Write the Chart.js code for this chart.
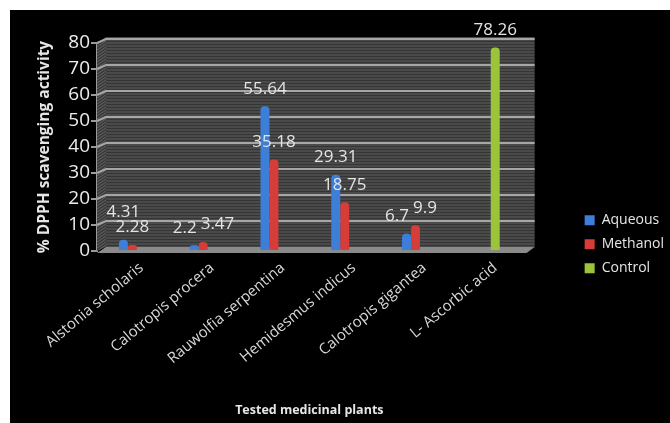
<!DOCTYPE html>
<html>
<head>
  <title>DPPH scavenging activity</title>
  <script src="https://cdn.jsdelivr.net/npm/chart.js"></script>
  <style>
    html, body {
      margin: 0;
      background: #fff;
      overflow: hidden;
    }
    .frame {
      position: absolute;
      left: 10px;
      top: 10px;
      width: 664px;
      height: 413px;
      background: #000;
    }
  </style>
</head>
<body>
  <div class="frame">
    <canvas id="myChart" width="664" height="413"></canvas>
  </div>
  <script>
    const categories = ['Alstonia scholaris', 'Calotropis procera', 'Rauwolfia serpentina',
      'Hemidesmus indicus', 'Calotropis gigantea', 'L- Ascorbic acid'];
    const aqueous = [4.31, 2.2, 55.64, 29.31, 6.7, null];
    const methanol = [2.28, 3.47, 35.18, 18.75, 9.9, null];
    const control = [null, null, null, null, null, 78.26];
    const yTicks = [0, 10, 20, 30, 40, 50, 60, 70, 80];

    const FONT = '"Open Sans", sans-serif';

    // fake 3D wall, side wall, floor and back grid lines
    const wallPlugin = {
      id: 'wall',
      beforeDatasetsDraw(chart) {
        const { ctx, chartArea } = chart;
        const { left: L, right: R, top: T, bottom: B } = chartArea;
        const y = chart.scales.y;
        const dx = 9, dy = 4;
        ctx.save();
        // back wall
        ctx.fillStyle = '#4a4a4a';
        ctx.fillRect(L + dx, T - dy - 2, R + 13 - L - dx, B - T + 2);
        ctx.strokeStyle = 'rgba(0,0,0,0.28)';
        ctx.lineWidth = 1;
        for (let sy = T - dy - 1; sy < B - dy; sy += 3) {
          ctx.beginPath();
          ctx.moveTo(L + dx, sy + 0.5);
          ctx.lineTo(R + 13, sy + 0.5);
          ctx.stroke();
        }
        // side wall
        ctx.beginPath();
        ctx.moveTo(L, T);
        ctx.lineTo(L + dx, T - dy - 2);
        ctx.lineTo(L + dx, B - dy);
        ctx.lineTo(L, B);
        ctx.closePath();
        ctx.fillStyle = '#3a3a3a';
        ctx.fill();
        ctx.clip();
        ctx.strokeStyle = 'rgba(150,150,150,0.45)';
        for (let hy = T - 20; hy < B + 10; hy += 3) {
          ctx.beginPath();
          ctx.moveTo(L, hy + 6);
          ctx.lineTo(L + dx, hy);
          ctx.stroke();
        }
        ctx.restore();
        ctx.save();
        // grid lines on the back wall
        ctx.strokeStyle = '#a6a6a6';
        ctx.lineWidth = 2;
        yTicks.forEach(v => {
          if (v === 0) return;
          const py = y.getPixelForValue(v);
          ctx.beginPath();
          ctx.moveTo(L, py);
          ctx.lineTo(L + dx, py - dy);
          ctx.lineTo(R + 13, py - dy);
          ctx.stroke();
        });
        // floor
        ctx.beginPath();
        ctx.moveTo(L, B + 2);
        ctx.lineTo(L + dx, B - dy);
        ctx.lineTo(R + 13, B - dy);
        ctx.lineTo(R + 5, B + 2);
        ctx.closePath();
        ctx.fillStyle = '#8a8a8a';
        ctx.fill();
        ctx.restore();
      }
    };

    // value labels above the bars
    const labelPlugin = {
      id: 'valueLabels',
      afterDatasetsDraw(chart) {
        const ctx = chart.ctx;
        ctx.save();
        ctx.font = '17px ' + FONT;
        ctx.fillStyle = '#e4e4e4';
        ctx.textBaseline = 'bottom';
        ctx.textAlign = 'left';
        categories.forEach((c, i) => {
          const items = [];
          chart.data.datasets.forEach((ds, d) => {
            const v = ds.data[i];
            if (v == null) return;
            const bar = chart.getDatasetMeta(d).data[i];
            const text = String(v);
            const w = ctx.measureText(text).width;
            items.push({ text, w, cx: bar.x, y: bar.y - 9 });
          });
          if (items.length === 2) {
            const [a, m] = items;
            const overX = Math.abs(a.cx - m.cx) < (a.w + m.w) / 2;
            const overY = Math.abs(a.y - m.y) < 17;
            if (overX && overY) {
              if (a.y < m.y) {
                a.y = m.y - 15;
              } else {
                const mid = (a.cx + m.cx) / 2;
                a.cx = mid - 2 - a.w / 2;
                m.cx = mid + 2 + m.w / 2;
              }
            }
          }
          items.forEach(it => ctx.fillText(it.text, it.cx - it.w / 2, it.y));
        });
        ctx.restore();
      }
    };

    const ctx = document.getElementById('myChart').getContext('2d');
    const chart = new Chart(ctx, {
      type: 'bar',
      data: {
        labels: categories,
        datasets: [
          { label: 'Aqueous', data: aqueous, backgroundColor: '#3c7ed8' },
          { label: 'Methanol', data: methanol, backgroundColor: '#d63c38' },
          { label: 'Control', data: control, backgroundColor: '#9cc43a' }
        ]
      },
      options: {
        responsive: false,
        animation: false,
        layout: { padding: { top: 33, bottom: 4, left: 0, right: 0 } },
        datasets: {
          bar: {
            categoryPercentage: 0.38,
            barPercentage: 1,
            borderRadius: { topLeft: 4, topRight: 4 },
            borderSkipped: 'bottom'
          }
        },
        scales: {
          x: {
            grid: { display: false },
            border: { display: false },
            ticks: {
              color: '#d8d8d8',
              font: { family: FONT, size: 15 },
              minRotation: 40,
              maxRotation: 40,
              labelOffset: 9,
              padding: 0
            },
            title: {
              display: true,
              text: 'Tested medicinal plants',
              color: '#e6e6e6',
              font: { family: FONT, size: 12.5, weight: 'bold' },
              padding: { top: 0, bottom: 1 }
            },
            afterFit(s) { s.height = 168; }
          },
          y: {
            min: 0,
            max: 80,
            afterBuildTicks(s) { s.ticks = yTicks.map(v => ({ value: v })); },
            grid: { drawOnChartArea: false, color: '#9a9a9a', tickLength: 6, lineWidth: 2 },
            border: { display: true, color: '#9a9a9a', width: 2 },
            ticks: {
              color: '#ececec',
              font: { family: FONT, size: 19 },
              padding: 1
            },
            title: {
              display: true,
              text: '% DPPH scavenging activity',
              color: '#e6e6e6',
              font: { family: FONT, size: 15.5, weight: 'bold' },
              padding: { top: 25, bottom: 0 }
            },
            afterFit(s) { s.width = 87; }
          },
          spacer: {
            position: 'right',
            display: true,
            grid: { display: false },
            border: { display: false },
            ticks: { display: false },
            afterFit(s) { s.width = 53; }
          }
        },
        plugins: {
          legend: {
            position: 'right',
            title: { display: true, text: '', padding: { top: 6, bottom: 6 }, font: { size: 12 } },
            labels: {
              color: '#e6e6e6',
              font: { family: FONT, size: 14 },
              boxWidth: 10,
              boxHeight: 10,
              padding: 10
            }
          },
          tooltip: { enabled: false }
        }
      },
      plugins: [wallPlugin, labelPlugin]
    });
  </script>
</body>
</html>
